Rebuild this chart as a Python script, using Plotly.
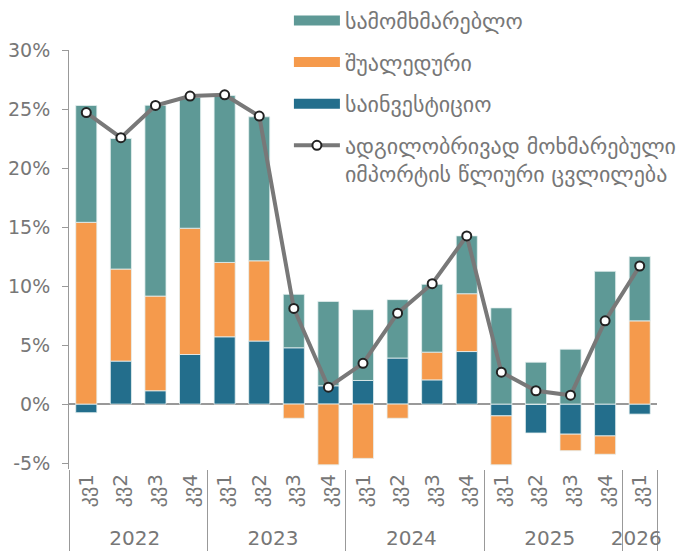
import plotly.graph_objects as go

years = ["2022"]*4 + ["2023"]*4 + ["2024"]*4 + ["2025"]*4 + ["2026"]
quarters = ["კვ1", "კვ2", "კვ3", "კვ4"]*4 + ["კვ1"]

investment = [-0.73, 3.64, 1.13, 4.2, 5.7, 5.34, 4.77, 1.55, 2.0, 3.9, 2.05, 4.45,
              -1.0, -2.45, -2.55, -2.7, -0.85]
intermediate = [15.4, 7.8, 8.02, 10.7, 6.3, 6.8, -1.2, -5.15, -4.6, -1.2, 2.35, 4.9,
                -4.15, 0.0, -1.4, -1.55, 7.05]
consumer = [9.9, 11.06, 16.17, 11.1, 14.15, 12.2, 4.53, 7.15, 6.0, 4.95, 5.75, 4.9,
            8.15, 3.55, 4.65, 11.25, 5.45]
imports_change = [24.7, 22.57, 25.3, 26.1, 26.2, 24.4, 8.1, 1.43, 3.45, 7.7, 10.2, 14.25,
                  2.7, 1.13, 0.75, 7.05, 11.7]

names = ["სამომხმარებლო", "შუალედური", "საინვესტიციო",
         "ადგილობრივად მოხმარებული", "იმპორტის წლიური ცვლილება"]
c_cons, c_int, c_inv, c_line = "#5e9996", "#f59a4c", "#236e8c", "#787878"

x = [years, quarters]
fig = go.Figure()
for vals, col in [(investment, c_inv), (intermediate, c_int), (consumer, c_cons)]:
    fig.add_trace(go.Bar(x=x, y=vals, marker=dict(color=col, line=dict(color="rgba(230,240,240,0.8)", width=1)),
                         showlegend=False, hoverinfo="y"))
fig.add_trace(go.Scatter(x=x, y=imports_change, mode="lines+markers",
                         line=dict(color=c_line, width=4),
                         marker=dict(color="white", size=9, line=dict(color="#222", width=2)),
                         showlegend=False))

# legend entries
for i, (nm, col) in enumerate(zip(names[:3], [c_cons, c_int, c_inv])):
    fig.add_trace(go.Scatter(x=[None], y=[None], mode="lines", name=nm,
                             line=dict(color=col, width=11), legendgroup=f"g{i}", legendrank=i+1))
fig.add_trace(go.Scatter(x=[None], y=[None], mode="lines+markers", name=names[3],
                         line=dict(color=c_line, width=4), legendgroup="g3", legendrank=4,
                         marker=dict(color="white", size=9, line=dict(color="#222", width=2))))
fig.add_trace(go.Scatter(x=[None], y=[None], mode="lines", name=names[4], legend="legend2",
                         line=dict(color="rgba(0,0,0,0)", width=0)))

leg_font = dict(family="DejaVu Sans", size=22, color="#777")
fig.update_layout(
    width=692, height=551,
    margin=dict(l=69, r=35, t=50, b=81.5, autoexpand=False),
    barmode="relative", bargap=0.39,
    plot_bgcolor="white", paper_bgcolor="white",
    font=dict(family="DejaVu Sans", size=18, color="#777"),
    legend=dict(x=0.374, y=1.120, xanchor="left", yanchor="top", bgcolor="rgba(0,0,0,0)",
                font=leg_font, traceorder="grouped", tracegroupgap=10, itemwidth=46),
    legend2=dict(x=0.374, y=0.7545, xanchor="left", yanchor="top", bgcolor="rgba(0,0,0,0)",
                 font=leg_font, itemwidth=46),
    xaxis=dict(type="multicategory", tickangle=-90, showline=False, showgrid=False,
               automargin=False, range=[-0.5, 16.5],
               showdividers=True, dividercolor="#999", dividerwidth=1,
               tickfont=dict(family="DejaVu Sans", size=20, color="#777")),
    yaxis=dict(range=[-5.5, 30], tickvals=[-5, 0, 5, 10, 15, 20, 25, 30],
               ticktext=["-5%", "0%", "5%", "10%", "15%", "20%", "25%", "30%"],
               automargin=False, ticklabelstandoff=8,
               showgrid=False, showline=True, linecolor="#999", linewidth=1,
               ticks="outside", ticklen=6, tickcolor="#999",
               zeroline=True, zerolinecolor="#999", zerolinewidth=1.5,
               tickfont=dict(family="DejaVu Sans", size=19, color="#777")),
)
fig.write_html("out.html", post_script="document.body.style.margin='0';",
               config={"displayModeBar": False})
